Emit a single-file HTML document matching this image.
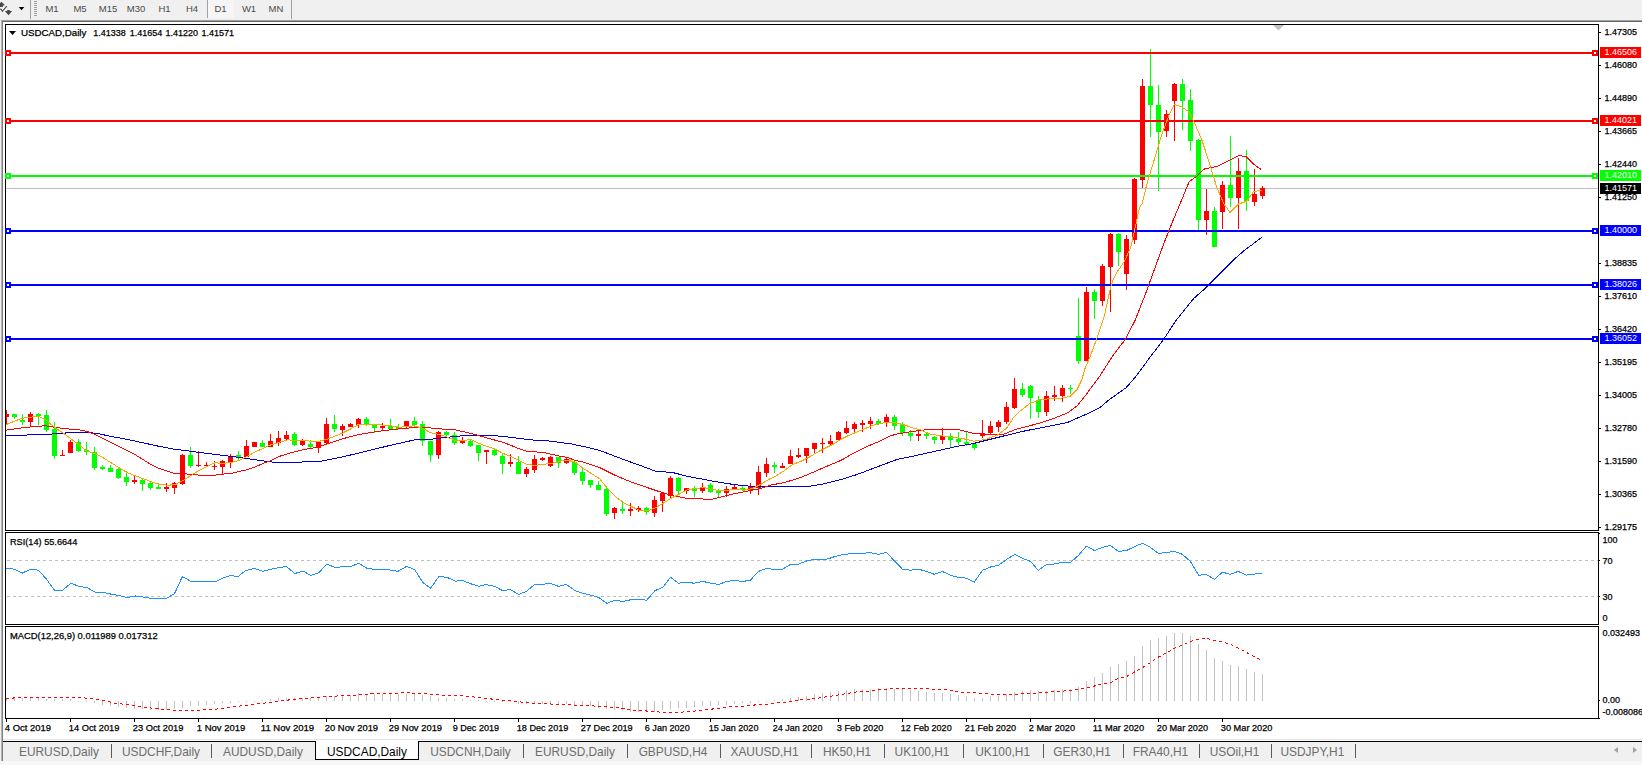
<!DOCTYPE html>
<html><head><meta charset="utf-8"><title>USDCAD,Daily</title>
<style>
html,body{margin:0;padding:0;}
body{width:1642px;height:765px;overflow:hidden;background:#fff;position:relative;font-family:"Liberation Sans",sans-serif;}
#toolbar{position:absolute;left:0;top:0;width:1642px;height:20px;background:#f0f0f0;}
#tb-line1{position:absolute;left:0;top:20px;width:1642px;height:1px;background:#a0a0a0;}
#tb-line2{position:absolute;left:0;top:21px;width:1642px;height:1px;background:#696969;}
#left-bg{position:absolute;left:0;top:20px;width:1px;height:741px;background:#f0f0f0;}
#left-edge{position:absolute;left:1px;top:21px;width:2px;height:740px;background:linear-gradient(90deg,#b4b4b4 0 1px,#808080 1px 2px);z-index:5;}
.tf{position:absolute;top:1.5px;width:28px;text-align:center;font-size:9.5px;line-height:13px;color:#4a4a4a;}
.tf.on{top:0;height:18px;line-height:18px;background:#f6f6f6;border-left:1px solid #a0a0a0;width:26px;}
.vsep{position:absolute;top:0;width:1px;height:19px;background:#a0a0a0;}
#grip{position:absolute;left:34px;top:1px;width:3px;height:16px;background:repeating-linear-gradient(#a0a0a0 0 1px,#f0f0f0 1px 2px);}
#chart{position:absolute;left:0;top:0;}
#chart rect,#chart polyline,#chart line{shape-rendering:crispEdges;}
#chart text{font-family:"Liberation Sans",sans-serif;stroke-width:0.25px;}
#tabbar{position:absolute;left:0;top:742px;width:1642px;height:19px;background:#f0f0f0;}
#tabline0{position:absolute;left:3px;top:739px;width:1642px;height:1px;background:#e3e3e3;}
#tabline{position:absolute;left:3px;top:741px;width:1642px;height:1px;background:#000;}
#below{position:absolute;left:0;top:761px;width:1642px;height:4px;background:#f7f7f7;}
.tab{position:absolute;top:3px;width:120px;text-align:center;font-size:11.9px;line-height:15px;color:#6d6d6d;white-space:nowrap;}
.tab.act{color:#000;top:-1px;height:18px;line-height:23px;background:#fff;border:1px solid #000;border-top:none;width:102px;margin-left:8px;}
.sep{position:absolute;top:2px;width:1px;height:14px;background:#5a5a5a;}
.arr{position:absolute;top:5px;width:0;height:0;border-top:3px solid transparent;border-bottom:3px solid transparent;}
</style></head><body>
<div id="toolbar">
<svg style="position:absolute;left:0;top:0" width="30" height="20"><polygon points="1.4,1.8 5,5.3 2.9,5.6 2.9,6.9 0,6.9 0,3.2" fill="#484848"/><polygon points="7.2,10 9.8,10 9.8,11 12.2,11.1 8.5,15.2 4.9,11.1 7.2,11" fill="#484848"/><polyline points="0,9.2 1.2,9.2 2.4,11.4 6.8,6.2" fill="none" stroke="#484848" stroke-width="1.1"/><polygon points="18.7,6.9 24.3,6.9 21.5,10.2" fill="#000"/></svg>
<i class="vsep" style="left:30px"></i><i id="grip"></i>
<span class="tf" style="left:38px">M1</span><span class="tf" style="left:66px">M5</span><span class="tf" style="left:94px">M15</span><span class="tf" style="left:122px">M30</span><span class="tf" style="left:150.5px">H1</span><span class="tf" style="left:178px">H4</span><span class="tf on" style="left:206.5px">D1</span><span class="tf" style="left:235px">W1</span><span class="tf" style="left:262px">MN</span>
<i class="vsep" style="left:291px"></i>
</div>
<div id="tb-line1"></div><div id="tb-line2"></div><div id="left-bg"></div><div id="left-edge"></div>
<svg id="chart" width="1642" height="742" viewBox="0 0 1642 742">
<defs><clipPath id="cp"><rect x="6" y="25" width="1592" height="693"/></clipPath></defs>
<rect x="5.5" y="24.5" width="1593" height="506" fill="#fff" stroke="#000" stroke-width="1"/>
<rect x="5.5" y="532.5" width="1593" height="92" fill="#fff" stroke="#000" stroke-width="1"/>
<rect x="5.5" y="626.5" width="1593" height="92" fill="#fff" stroke="#000" stroke-width="1"/>
<rect x="6" y="188" width="1592" height="1" fill="#c0c0c0"/>
<g clip-path="url(#cp)">
<rect x="6" y="698" width="1" height="3" fill="#c0c0c0"/>
<rect x="14" y="698" width="1" height="3" fill="#c0c0c0"/>
<rect x="22" y="698" width="1" height="3" fill="#c0c0c0"/>
<rect x="30" y="698" width="1" height="3" fill="#c0c0c0"/>
<rect x="38" y="698" width="1" height="3" fill="#c0c0c0"/>
<rect x="46" y="699" width="1" height="2" fill="#c0c0c0"/>
<rect x="54" y="699" width="1" height="2" fill="#c0c0c0"/>
<rect x="62" y="699" width="1" height="2" fill="#c0c0c0"/>
<rect x="70" y="699" width="1" height="2" fill="#c0c0c0"/>
<rect x="78" y="701" width="1" height="1" fill="#c0c0c0"/>
<rect x="86" y="701" width="1" height="1" fill="#c0c0c0"/>
<rect x="94" y="701" width="1" height="2" fill="#c0c0c0"/>
<rect x="102" y="701" width="1" height="4" fill="#c0c0c0"/>
<rect x="110" y="701" width="1" height="5" fill="#c0c0c0"/>
<rect x="118" y="701" width="1" height="6" fill="#c0c0c0"/>
<rect x="126" y="701" width="1" height="7" fill="#c0c0c0"/>
<rect x="134" y="701" width="1" height="8" fill="#c0c0c0"/>
<rect x="142" y="701" width="1" height="8" fill="#c0c0c0"/>
<rect x="150" y="701" width="1" height="9" fill="#c0c0c0"/>
<rect x="158" y="701" width="1" height="9" fill="#c0c0c0"/>
<rect x="166" y="701" width="1" height="9" fill="#c0c0c0"/>
<rect x="174" y="701" width="1" height="8" fill="#c0c0c0"/>
<rect x="182" y="701" width="1" height="7" fill="#c0c0c0"/>
<rect x="190" y="701" width="1" height="5" fill="#c0c0c0"/>
<rect x="198" y="701" width="1" height="5" fill="#c0c0c0"/>
<rect x="206" y="701" width="1" height="4" fill="#c0c0c0"/>
<rect x="214" y="701" width="1" height="3" fill="#c0c0c0"/>
<rect x="222" y="701" width="1" height="2" fill="#c0c0c0"/>
<rect x="230" y="701" width="1" height="2" fill="#c0c0c0"/>
<rect x="238" y="701" width="1" height="1" fill="#c0c0c0"/>
<rect x="246" y="701" width="1" height="1" fill="#c0c0c0"/>
<rect x="254" y="701" width="1" height="1" fill="#c0c0c0"/>
<rect x="262" y="700" width="1" height="1" fill="#c0c0c0"/>
<rect x="270" y="699" width="1" height="2" fill="#c0c0c0"/>
<rect x="278" y="698" width="1" height="3" fill="#c0c0c0"/>
<rect x="286" y="698" width="1" height="3" fill="#c0c0c0"/>
<rect x="294" y="698" width="1" height="3" fill="#c0c0c0"/>
<rect x="302" y="698" width="1" height="3" fill="#c0c0c0"/>
<rect x="310" y="698" width="1" height="3" fill="#c0c0c0"/>
<rect x="318" y="697" width="1" height="4" fill="#c0c0c0"/>
<rect x="326" y="696" width="1" height="5" fill="#c0c0c0"/>
<rect x="334" y="696" width="1" height="5" fill="#c0c0c0"/>
<rect x="342" y="695" width="1" height="6" fill="#c0c0c0"/>
<rect x="350" y="695" width="1" height="6" fill="#c0c0c0"/>
<rect x="358" y="693" width="1" height="8" fill="#c0c0c0"/>
<rect x="366" y="694" width="1" height="7" fill="#c0c0c0"/>
<rect x="374" y="694" width="1" height="7" fill="#c0c0c0"/>
<rect x="382" y="694" width="1" height="7" fill="#c0c0c0"/>
<rect x="390" y="694" width="1" height="7" fill="#c0c0c0"/>
<rect x="398" y="694" width="1" height="7" fill="#c0c0c0"/>
<rect x="406" y="694" width="1" height="7" fill="#c0c0c0"/>
<rect x="414" y="694" width="1" height="7" fill="#c0c0c0"/>
<rect x="422" y="695" width="1" height="6" fill="#c0c0c0"/>
<rect x="430" y="696" width="1" height="5" fill="#c0c0c0"/>
<rect x="438" y="698" width="1" height="3" fill="#c0c0c0"/>
<rect x="446" y="698" width="1" height="3" fill="#c0c0c0"/>
<rect x="454" y="699" width="1" height="2" fill="#c0c0c0"/>
<rect x="462" y="699" width="1" height="2" fill="#c0c0c0"/>
<rect x="470" y="700" width="1" height="1" fill="#c0c0c0"/>
<rect x="478" y="700" width="1" height="1" fill="#c0c0c0"/>
<rect x="486" y="701" width="1" height="1" fill="#c0c0c0"/>
<rect x="494" y="701" width="1" height="1" fill="#c0c0c0"/>
<rect x="502" y="701" width="1" height="1" fill="#c0c0c0"/>
<rect x="510" y="701" width="1" height="1" fill="#c0c0c0"/>
<rect x="518" y="701" width="1" height="3" fill="#c0c0c0"/>
<rect x="526" y="701" width="1" height="3" fill="#c0c0c0"/>
<rect x="534" y="701" width="1" height="3" fill="#c0c0c0"/>
<rect x="542" y="701" width="1" height="3" fill="#c0c0c0"/>
<rect x="550" y="701" width="1" height="4" fill="#c0c0c0"/>
<rect x="558" y="701" width="1" height="3" fill="#c0c0c0"/>
<rect x="566" y="701" width="1" height="3" fill="#c0c0c0"/>
<rect x="574" y="701" width="1" height="4" fill="#c0c0c0"/>
<rect x="582" y="701" width="1" height="5" fill="#c0c0c0"/>
<rect x="590" y="701" width="1" height="5" fill="#c0c0c0"/>
<rect x="598" y="701" width="1" height="7" fill="#c0c0c0"/>
<rect x="606" y="701" width="1" height="8" fill="#c0c0c0"/>
<rect x="614" y="701" width="1" height="9" fill="#c0c0c0"/>
<rect x="622" y="701" width="1" height="10" fill="#c0c0c0"/>
<rect x="630" y="701" width="1" height="11" fill="#c0c0c0"/>
<rect x="638" y="701" width="1" height="11" fill="#c0c0c0"/>
<rect x="646" y="701" width="1" height="11" fill="#c0c0c0"/>
<rect x="654" y="701" width="1" height="11" fill="#c0c0c0"/>
<rect x="662" y="701" width="1" height="9" fill="#c0c0c0"/>
<rect x="670" y="701" width="1" height="8" fill="#c0c0c0"/>
<rect x="678" y="701" width="1" height="7" fill="#c0c0c0"/>
<rect x="686" y="701" width="1" height="7" fill="#c0c0c0"/>
<rect x="694" y="701" width="1" height="6" fill="#c0c0c0"/>
<rect x="702" y="701" width="1" height="5" fill="#c0c0c0"/>
<rect x="710" y="701" width="1" height="5" fill="#c0c0c0"/>
<rect x="718" y="701" width="1" height="4" fill="#c0c0c0"/>
<rect x="726" y="701" width="1" height="4" fill="#c0c0c0"/>
<rect x="734" y="701" width="1" height="3" fill="#c0c0c0"/>
<rect x="742" y="701" width="1" height="2" fill="#c0c0c0"/>
<rect x="750" y="701" width="1" height="2" fill="#c0c0c0"/>
<rect x="758" y="701" width="1" height="1" fill="#c0c0c0"/>
<rect x="766" y="701" width="1" height="1" fill="#c0c0c0"/>
<rect x="774" y="700" width="1" height="1" fill="#c0c0c0"/>
<rect x="782" y="699" width="1" height="2" fill="#c0c0c0"/>
<rect x="790" y="698" width="1" height="3" fill="#c0c0c0"/>
<rect x="798" y="697" width="1" height="4" fill="#c0c0c0"/>
<rect x="806" y="696" width="1" height="5" fill="#c0c0c0"/>
<rect x="814" y="694" width="1" height="7" fill="#c0c0c0"/>
<rect x="822" y="693" width="1" height="8" fill="#c0c0c0"/>
<rect x="830" y="692" width="1" height="9" fill="#c0c0c0"/>
<rect x="838" y="691" width="1" height="10" fill="#c0c0c0"/>
<rect x="846" y="690" width="1" height="11" fill="#c0c0c0"/>
<rect x="854" y="689" width="1" height="12" fill="#c0c0c0"/>
<rect x="862" y="689" width="1" height="12" fill="#c0c0c0"/>
<rect x="870" y="689" width="1" height="12" fill="#c0c0c0"/>
<rect x="878" y="688" width="1" height="13" fill="#c0c0c0"/>
<rect x="886" y="688" width="1" height="13" fill="#c0c0c0"/>
<rect x="894" y="689" width="1" height="12" fill="#c0c0c0"/>
<rect x="902" y="689" width="1" height="12" fill="#c0c0c0"/>
<rect x="910" y="690" width="1" height="11" fill="#c0c0c0"/>
<rect x="918" y="691" width="1" height="10" fill="#c0c0c0"/>
<rect x="926" y="692" width="1" height="9" fill="#c0c0c0"/>
<rect x="934" y="693" width="1" height="8" fill="#c0c0c0"/>
<rect x="942" y="693" width="1" height="8" fill="#c0c0c0"/>
<rect x="950" y="694" width="1" height="7" fill="#c0c0c0"/>
<rect x="958" y="695" width="1" height="6" fill="#c0c0c0"/>
<rect x="966" y="696" width="1" height="5" fill="#c0c0c0"/>
<rect x="974" y="698" width="1" height="3" fill="#c0c0c0"/>
<rect x="982" y="698" width="1" height="3" fill="#c0c0c0"/>
<rect x="990" y="696" width="1" height="5" fill="#c0c0c0"/>
<rect x="998" y="696" width="1" height="5" fill="#c0c0c0"/>
<rect x="1006" y="694" width="1" height="7" fill="#c0c0c0"/>
<rect x="1014" y="692" width="1" height="9" fill="#c0c0c0"/>
<rect x="1022" y="691" width="1" height="10" fill="#c0c0c0"/>
<rect x="1030" y="690" width="1" height="11" fill="#c0c0c0"/>
<rect x="1038" y="691" width="1" height="10" fill="#c0c0c0"/>
<rect x="1046" y="691" width="1" height="10" fill="#c0c0c0"/>
<rect x="1054" y="690" width="1" height="11" fill="#c0c0c0"/>
<rect x="1062" y="689" width="1" height="12" fill="#c0c0c0"/>
<rect x="1070" y="689" width="1" height="12" fill="#c0c0c0"/>
<rect x="1078" y="687" width="1" height="14" fill="#c0c0c0"/>
<rect x="1086" y="681" width="1" height="20" fill="#c0c0c0"/>
<rect x="1094" y="677" width="1" height="24" fill="#c0c0c0"/>
<rect x="1102" y="673" width="1" height="28" fill="#c0c0c0"/>
<rect x="1110" y="667" width="1" height="34" fill="#c0c0c0"/>
<rect x="1118" y="664" width="1" height="37" fill="#c0c0c0"/>
<rect x="1126" y="661" width="1" height="40" fill="#c0c0c0"/>
<rect x="1134" y="656" width="1" height="45" fill="#c0c0c0"/>
<rect x="1142" y="646" width="1" height="55" fill="#c0c0c0"/>
<rect x="1150" y="640" width="1" height="61" fill="#c0c0c0"/>
<rect x="1158" y="638" width="1" height="63" fill="#c0c0c0"/>
<rect x="1166" y="636" width="1" height="65" fill="#c0c0c0"/>
<rect x="1174" y="633" width="1" height="68" fill="#c0c0c0"/>
<rect x="1182" y="633" width="1" height="68" fill="#c0c0c0"/>
<rect x="1190" y="636" width="1" height="65" fill="#c0c0c0"/>
<rect x="1198" y="644" width="1" height="57" fill="#c0c0c0"/>
<rect x="1206" y="650" width="1" height="51" fill="#c0c0c0"/>
<rect x="1214" y="658" width="1" height="43" fill="#c0c0c0"/>
<rect x="1222" y="661" width="1" height="40" fill="#c0c0c0"/>
<rect x="1230" y="665" width="1" height="36" fill="#c0c0c0"/>
<rect x="1238" y="666" width="1" height="35" fill="#c0c0c0"/>
<rect x="1246" y="669" width="1" height="32" fill="#c0c0c0"/>
<rect x="1254" y="672" width="1" height="29" fill="#c0c0c0"/>
<rect x="1262" y="674" width="1" height="27" fill="#c0c0c0"/>
<rect x="6" y="410" width="1" height="14" fill="#ff0000"/>
<rect x="4" y="414" width="5" height="3" fill="#ff0000"/>
<rect x="14" y="414" width="1" height="5" fill="#00ff00"/>
<rect x="12" y="414" width="5" height="3" fill="#00ff00"/>
<rect x="22" y="414" width="1" height="11" fill="#00ff00"/>
<rect x="20" y="420" width="5" height="2" fill="#00ff00"/>
<rect x="30" y="412" width="1" height="15" fill="#ff0000"/>
<rect x="28" y="414" width="5" height="8" fill="#ff0000"/>
<rect x="38" y="413" width="1" height="12" fill="#00ff00"/>
<rect x="36" y="414" width="5" height="2" fill="#00ff00"/>
<rect x="46" y="410" width="1" height="22" fill="#00ff00"/>
<rect x="44" y="415" width="5" height="15" fill="#00ff00"/>
<rect x="54" y="422" width="1" height="37" fill="#00ff00"/>
<rect x="52" y="429" width="5" height="27" fill="#00ff00"/>
<rect x="62" y="450" width="1" height="6" fill="#ff0000"/>
<rect x="60" y="455" width="5" height="1" fill="#ff0000"/>
<rect x="70" y="440" width="1" height="13" fill="#ff0000"/>
<rect x="68" y="442" width="5" height="11" fill="#ff0000"/>
<rect x="78" y="439" width="1" height="13" fill="#00ff00"/>
<rect x="76" y="442" width="5" height="9" fill="#00ff00"/>
<rect x="86" y="442" width="1" height="13" fill="#00ff00"/>
<rect x="84" y="450" width="5" height="2" fill="#00ff00"/>
<rect x="94" y="447" width="1" height="23" fill="#00ff00"/>
<rect x="92" y="452" width="5" height="16" fill="#00ff00"/>
<rect x="102" y="465" width="1" height="5" fill="#00ff00"/>
<rect x="100" y="467" width="5" height="2" fill="#00ff00"/>
<rect x="110" y="465" width="1" height="7" fill="#00ff00"/>
<rect x="108" y="468" width="5" height="4" fill="#00ff00"/>
<rect x="118" y="468" width="1" height="11" fill="#00ff00"/>
<rect x="116" y="469" width="5" height="9" fill="#00ff00"/>
<rect x="126" y="471" width="1" height="15" fill="#00ff00"/>
<rect x="124" y="477" width="5" height="5" fill="#00ff00"/>
<rect x="134" y="476" width="1" height="8" fill="#ff0000"/>
<rect x="132" y="480" width="5" height="2" fill="#ff0000"/>
<rect x="142" y="479" width="1" height="12" fill="#00ff00"/>
<rect x="140" y="480" width="5" height="4" fill="#00ff00"/>
<rect x="150" y="482" width="1" height="8" fill="#00ff00"/>
<rect x="148" y="483" width="5" height="5" fill="#00ff00"/>
<rect x="158" y="485" width="1" height="4" fill="#00ff00"/>
<rect x="156" y="487" width="5" height="2" fill="#00ff00"/>
<rect x="166" y="483" width="1" height="9" fill="#ff0000"/>
<rect x="164" y="487" width="5" height="2" fill="#ff0000"/>
<rect x="174" y="482" width="1" height="12" fill="#ff0000"/>
<rect x="172" y="483" width="5" height="5" fill="#ff0000"/>
<rect x="182" y="454" width="1" height="31" fill="#ff0000"/>
<rect x="180" y="455" width="5" height="29" fill="#ff0000"/>
<rect x="190" y="447" width="1" height="21" fill="#00ff00"/>
<rect x="188" y="455" width="5" height="11" fill="#00ff00"/>
<rect x="198" y="451" width="1" height="16" fill="#ff0000"/>
<rect x="196" y="465" width="5" height="1" fill="#ff0000"/>
<rect x="206" y="462" width="1" height="5" fill="#ff0000"/>
<rect x="204" y="465" width="5" height="1" fill="#ff0000"/>
<rect x="214" y="461" width="1" height="9" fill="#ff0000"/>
<rect x="212" y="466" width="5" height="1" fill="#ff0000"/>
<rect x="222" y="460" width="1" height="14" fill="#ff0000"/>
<rect x="220" y="461" width="5" height="6" fill="#ff0000"/>
<rect x="230" y="454" width="1" height="14" fill="#ff0000"/>
<rect x="228" y="456" width="5" height="6" fill="#ff0000"/>
<rect x="238" y="451" width="1" height="10" fill="#00ff00"/>
<rect x="236" y="455" width="5" height="2" fill="#00ff00"/>
<rect x="246" y="440" width="1" height="17" fill="#ff0000"/>
<rect x="244" y="446" width="5" height="11" fill="#ff0000"/>
<rect x="254" y="442" width="1" height="5" fill="#ff0000"/>
<rect x="252" y="442" width="5" height="5" fill="#ff0000"/>
<rect x="262" y="440" width="1" height="7" fill="#00ff00"/>
<rect x="260" y="443" width="5" height="4" fill="#00ff00"/>
<rect x="270" y="434" width="1" height="13" fill="#ff0000"/>
<rect x="268" y="441" width="5" height="6" fill="#ff0000"/>
<rect x="278" y="431" width="1" height="15" fill="#ff0000"/>
<rect x="276" y="438" width="5" height="5" fill="#ff0000"/>
<rect x="286" y="431" width="1" height="9" fill="#ff0000"/>
<rect x="284" y="435" width="5" height="4" fill="#ff0000"/>
<rect x="294" y="432" width="1" height="14" fill="#00ff00"/>
<rect x="292" y="434" width="5" height="11" fill="#00ff00"/>
<rect x="302" y="439" width="1" height="7" fill="#ff0000"/>
<rect x="300" y="441" width="5" height="4" fill="#ff0000"/>
<rect x="310" y="440" width="1" height="8" fill="#00ff00"/>
<rect x="308" y="444" width="5" height="3" fill="#00ff00"/>
<rect x="318" y="441" width="1" height="12" fill="#ff0000"/>
<rect x="316" y="442" width="5" height="6" fill="#ff0000"/>
<rect x="326" y="418" width="1" height="27" fill="#ff0000"/>
<rect x="324" y="424" width="5" height="19" fill="#ff0000"/>
<rect x="334" y="415" width="1" height="17" fill="#00ff00"/>
<rect x="332" y="424" width="5" height="5" fill="#00ff00"/>
<rect x="342" y="424" width="1" height="12" fill="#ff0000"/>
<rect x="340" y="426" width="5" height="4" fill="#ff0000"/>
<rect x="350" y="423" width="1" height="4" fill="#ff0000"/>
<rect x="348" y="424" width="5" height="3" fill="#ff0000"/>
<rect x="358" y="418" width="1" height="10" fill="#ff0000"/>
<rect x="356" y="419" width="5" height="6" fill="#ff0000"/>
<rect x="366" y="417" width="1" height="9" fill="#00ff00"/>
<rect x="364" y="419" width="5" height="6" fill="#00ff00"/>
<rect x="374" y="425" width="1" height="8" fill="#00ff00"/>
<rect x="372" y="425" width="5" height="3" fill="#00ff00"/>
<rect x="382" y="423" width="1" height="8" fill="#ff0000"/>
<rect x="380" y="426" width="5" height="2" fill="#ff0000"/>
<rect x="390" y="419" width="1" height="11" fill="#00ff00"/>
<rect x="388" y="426" width="5" height="3" fill="#00ff00"/>
<rect x="398" y="424" width="1" height="5" fill="#00ff00"/>
<rect x="396" y="427" width="5" height="2" fill="#00ff00"/>
<rect x="406" y="421" width="1" height="8" fill="#ff0000"/>
<rect x="404" y="421" width="5" height="6" fill="#ff0000"/>
<rect x="414" y="417" width="1" height="11" fill="#00ff00"/>
<rect x="412" y="421" width="5" height="4" fill="#00ff00"/>
<rect x="422" y="421" width="1" height="25" fill="#00ff00"/>
<rect x="420" y="424" width="5" height="17" fill="#00ff00"/>
<rect x="430" y="441" width="1" height="21" fill="#00ff00"/>
<rect x="428" y="441" width="5" height="14" fill="#00ff00"/>
<rect x="438" y="431" width="1" height="28" fill="#ff0000"/>
<rect x="436" y="432" width="5" height="23" fill="#ff0000"/>
<rect x="446" y="431" width="1" height="5" fill="#00ff00"/>
<rect x="444" y="432" width="5" height="3" fill="#00ff00"/>
<rect x="454" y="432" width="1" height="13" fill="#00ff00"/>
<rect x="452" y="435" width="5" height="8" fill="#00ff00"/>
<rect x="462" y="437" width="1" height="7" fill="#ff0000"/>
<rect x="460" y="441" width="5" height="2" fill="#ff0000"/>
<rect x="470" y="439" width="1" height="8" fill="#00ff00"/>
<rect x="468" y="441" width="5" height="5" fill="#00ff00"/>
<rect x="478" y="445" width="1" height="16" fill="#00ff00"/>
<rect x="476" y="445" width="5" height="8" fill="#00ff00"/>
<rect x="486" y="450" width="1" height="14" fill="#ff0000"/>
<rect x="484" y="450" width="5" height="2" fill="#ff0000"/>
<rect x="494" y="449" width="1" height="7" fill="#00ff00"/>
<rect x="492" y="450" width="5" height="5" fill="#00ff00"/>
<rect x="502" y="454" width="1" height="20" fill="#00ff00"/>
<rect x="500" y="456" width="5" height="8" fill="#00ff00"/>
<rect x="510" y="454" width="1" height="13" fill="#ff0000"/>
<rect x="508" y="462" width="5" height="2" fill="#ff0000"/>
<rect x="518" y="456" width="1" height="18" fill="#00ff00"/>
<rect x="516" y="462" width="5" height="12" fill="#00ff00"/>
<rect x="526" y="467" width="1" height="10" fill="#ff0000"/>
<rect x="524" y="469" width="5" height="5" fill="#ff0000"/>
<rect x="534" y="455" width="1" height="18" fill="#ff0000"/>
<rect x="532" y="459" width="5" height="11" fill="#ff0000"/>
<rect x="542" y="457" width="1" height="4" fill="#ff0000"/>
<rect x="540" y="458" width="5" height="2" fill="#ff0000"/>
<rect x="550" y="456" width="1" height="11" fill="#ff0000"/>
<rect x="548" y="457" width="5" height="9" fill="#ff0000"/>
<rect x="558" y="457" width="1" height="11" fill="#00ff00"/>
<rect x="556" y="457" width="5" height="6" fill="#00ff00"/>
<rect x="566" y="457" width="1" height="7" fill="#ff0000"/>
<rect x="564" y="459" width="5" height="4" fill="#ff0000"/>
<rect x="574" y="460" width="1" height="15" fill="#00ff00"/>
<rect x="572" y="462" width="5" height="11" fill="#00ff00"/>
<rect x="582" y="468" width="1" height="17" fill="#00ff00"/>
<rect x="580" y="472" width="5" height="9" fill="#00ff00"/>
<rect x="590" y="480" width="1" height="8" fill="#00ff00"/>
<rect x="588" y="480" width="5" height="5" fill="#00ff00"/>
<rect x="598" y="481" width="1" height="9" fill="#00ff00"/>
<rect x="596" y="485" width="5" height="5" fill="#00ff00"/>
<rect x="606" y="486" width="1" height="30" fill="#00ff00"/>
<rect x="604" y="489" width="5" height="25" fill="#00ff00"/>
<rect x="614" y="507" width="1" height="12" fill="#ff0000"/>
<rect x="612" y="508" width="5" height="5" fill="#ff0000"/>
<rect x="622" y="502" width="1" height="12" fill="#00ff00"/>
<rect x="620" y="509" width="5" height="2" fill="#00ff00"/>
<rect x="630" y="503" width="1" height="13" fill="#ff0000"/>
<rect x="628" y="509" width="5" height="2" fill="#ff0000"/>
<rect x="638" y="506" width="1" height="6" fill="#ff0000"/>
<rect x="636" y="508" width="5" height="2" fill="#ff0000"/>
<rect x="646" y="507" width="1" height="8" fill="#00ff00"/>
<rect x="644" y="508" width="5" height="4" fill="#00ff00"/>
<rect x="654" y="496" width="1" height="21" fill="#ff0000"/>
<rect x="652" y="500" width="5" height="13" fill="#ff0000"/>
<rect x="662" y="493" width="1" height="19" fill="#ff0000"/>
<rect x="660" y="493" width="5" height="8" fill="#ff0000"/>
<rect x="670" y="476" width="1" height="22" fill="#ff0000"/>
<rect x="668" y="478" width="5" height="18" fill="#ff0000"/>
<rect x="678" y="477" width="1" height="18" fill="#00ff00"/>
<rect x="676" y="478" width="5" height="13" fill="#00ff00"/>
<rect x="686" y="488" width="1" height="6" fill="#ff0000"/>
<rect x="684" y="488" width="5" height="3" fill="#ff0000"/>
<rect x="694" y="486" width="1" height="11" fill="#00ff00"/>
<rect x="692" y="489" width="5" height="2" fill="#00ff00"/>
<rect x="702" y="483" width="1" height="10" fill="#ff0000"/>
<rect x="700" y="487" width="5" height="4" fill="#ff0000"/>
<rect x="710" y="483" width="1" height="10" fill="#00ff00"/>
<rect x="708" y="485" width="5" height="7" fill="#00ff00"/>
<rect x="718" y="489" width="1" height="8" fill="#00ff00"/>
<rect x="716" y="490" width="5" height="3" fill="#00ff00"/>
<rect x="726" y="486" width="1" height="11" fill="#ff0000"/>
<rect x="724" y="489" width="5" height="4" fill="#ff0000"/>
<rect x="734" y="485" width="1" height="5" fill="#ff0000"/>
<rect x="732" y="487" width="5" height="3" fill="#ff0000"/>
<rect x="742" y="486" width="1" height="5" fill="#00ff00"/>
<rect x="740" y="488" width="5" height="2" fill="#00ff00"/>
<rect x="750" y="483" width="1" height="11" fill="#ff0000"/>
<rect x="748" y="487" width="5" height="3" fill="#ff0000"/>
<rect x="758" y="466" width="1" height="29" fill="#ff0000"/>
<rect x="756" y="472" width="5" height="16" fill="#ff0000"/>
<rect x="766" y="458" width="1" height="19" fill="#ff0000"/>
<rect x="764" y="464" width="5" height="9" fill="#ff0000"/>
<rect x="774" y="462" width="1" height="11" fill="#00ff00"/>
<rect x="772" y="465" width="5" height="2" fill="#00ff00"/>
<rect x="782" y="463" width="1" height="5" fill="#ff0000"/>
<rect x="780" y="466" width="5" height="2" fill="#ff0000"/>
<rect x="790" y="450" width="1" height="14" fill="#ff0000"/>
<rect x="788" y="456" width="5" height="8" fill="#ff0000"/>
<rect x="798" y="448" width="1" height="10" fill="#ff0000"/>
<rect x="796" y="455" width="5" height="2" fill="#ff0000"/>
<rect x="806" y="448" width="1" height="15" fill="#ff0000"/>
<rect x="804" y="448" width="5" height="8" fill="#ff0000"/>
<rect x="814" y="443" width="1" height="10" fill="#ff0000"/>
<rect x="812" y="443" width="5" height="6" fill="#ff0000"/>
<rect x="822" y="438" width="1" height="15" fill="#ff0000"/>
<rect x="820" y="443" width="5" height="1" fill="#ff0000"/>
<rect x="830" y="435" width="1" height="11" fill="#ff0000"/>
<rect x="828" y="441" width="5" height="3" fill="#ff0000"/>
<rect x="838" y="431" width="1" height="10" fill="#ff0000"/>
<rect x="836" y="432" width="5" height="8" fill="#ff0000"/>
<rect x="846" y="421" width="1" height="13" fill="#ff0000"/>
<rect x="844" y="428" width="5" height="5" fill="#ff0000"/>
<rect x="854" y="422" width="1" height="12" fill="#ff0000"/>
<rect x="852" y="424" width="5" height="5" fill="#ff0000"/>
<rect x="862" y="420" width="1" height="12" fill="#ff0000"/>
<rect x="860" y="423" width="5" height="2" fill="#ff0000"/>
<rect x="870" y="417" width="1" height="12" fill="#ff0000"/>
<rect x="868" y="421" width="5" height="3" fill="#ff0000"/>
<rect x="878" y="419" width="1" height="6" fill="#00ff00"/>
<rect x="876" y="421" width="5" height="3" fill="#00ff00"/>
<rect x="886" y="414" width="1" height="13" fill="#ff0000"/>
<rect x="884" y="417" width="5" height="5" fill="#ff0000"/>
<rect x="894" y="415" width="1" height="15" fill="#00ff00"/>
<rect x="892" y="417" width="5" height="9" fill="#00ff00"/>
<rect x="902" y="422" width="1" height="14" fill="#00ff00"/>
<rect x="900" y="425" width="5" height="8" fill="#00ff00"/>
<rect x="910" y="430" width="1" height="11" fill="#00ff00"/>
<rect x="908" y="433" width="5" height="3" fill="#00ff00"/>
<rect x="918" y="430" width="1" height="11" fill="#ff0000"/>
<rect x="916" y="434" width="5" height="2" fill="#ff0000"/>
<rect x="926" y="433" width="1" height="6" fill="#00ff00"/>
<rect x="924" y="434" width="5" height="2" fill="#00ff00"/>
<rect x="934" y="436" width="1" height="8" fill="#00ff00"/>
<rect x="932" y="437" width="5" height="3" fill="#00ff00"/>
<rect x="942" y="428" width="1" height="16" fill="#ff0000"/>
<rect x="940" y="436" width="5" height="4" fill="#ff0000"/>
<rect x="950" y="433" width="1" height="14" fill="#00ff00"/>
<rect x="948" y="436" width="5" height="4" fill="#00ff00"/>
<rect x="958" y="432" width="1" height="13" fill="#00ff00"/>
<rect x="956" y="439" width="5" height="3" fill="#00ff00"/>
<rect x="966" y="431" width="1" height="15" fill="#00ff00"/>
<rect x="964" y="442" width="5" height="2" fill="#00ff00"/>
<rect x="974" y="443" width="1" height="7" fill="#00ff00"/>
<rect x="972" y="444" width="5" height="4" fill="#00ff00"/>
<rect x="982" y="420" width="1" height="18" fill="#ff0000"/>
<rect x="980" y="433" width="5" height="3" fill="#ff0000"/>
<rect x="990" y="421" width="1" height="13" fill="#ff0000"/>
<rect x="988" y="426" width="5" height="7" fill="#ff0000"/>
<rect x="998" y="420" width="1" height="12" fill="#ff0000"/>
<rect x="996" y="422" width="5" height="5" fill="#ff0000"/>
<rect x="1006" y="402" width="1" height="22" fill="#ff0000"/>
<rect x="1004" y="407" width="5" height="15" fill="#ff0000"/>
<rect x="1014" y="378" width="1" height="31" fill="#ff0000"/>
<rect x="1012" y="389" width="5" height="19" fill="#ff0000"/>
<rect x="1022" y="383" width="1" height="14" fill="#00ff00"/>
<rect x="1020" y="389" width="5" height="6" fill="#00ff00"/>
<rect x="1030" y="385" width="1" height="34" fill="#00ff00"/>
<rect x="1028" y="386" width="5" height="12" fill="#00ff00"/>
<rect x="1038" y="396" width="1" height="22" fill="#00ff00"/>
<rect x="1036" y="400" width="5" height="12" fill="#00ff00"/>
<rect x="1046" y="391" width="1" height="25" fill="#ff0000"/>
<rect x="1044" y="396" width="5" height="16" fill="#ff0000"/>
<rect x="1054" y="386" width="1" height="15" fill="#ff0000"/>
<rect x="1052" y="395" width="5" height="2" fill="#ff0000"/>
<rect x="1062" y="385" width="1" height="17" fill="#ff0000"/>
<rect x="1060" y="388" width="5" height="8" fill="#ff0000"/>
<rect x="1070" y="385" width="1" height="9" fill="#00ff00"/>
<rect x="1068" y="388" width="5" height="1" fill="#00ff00"/>
<rect x="1078" y="298" width="1" height="66" fill="#00ff00"/>
<rect x="1076" y="336" width="5" height="25" fill="#00ff00"/>
<rect x="1086" y="287" width="1" height="74" fill="#ff0000"/>
<rect x="1084" y="292" width="5" height="69" fill="#ff0000"/>
<rect x="1094" y="289" width="1" height="30" fill="#00ff00"/>
<rect x="1092" y="292" width="5" height="9" fill="#00ff00"/>
<rect x="1102" y="264" width="1" height="42" fill="#ff0000"/>
<rect x="1100" y="266" width="5" height="35" fill="#ff0000"/>
<rect x="1110" y="233" width="1" height="79" fill="#ff0000"/>
<rect x="1108" y="234" width="5" height="33" fill="#ff0000"/>
<rect x="1118" y="233" width="1" height="33" fill="#00ff00"/>
<rect x="1116" y="234" width="5" height="18" fill="#00ff00"/>
<rect x="1126" y="235" width="1" height="55" fill="#ff0000"/>
<rect x="1124" y="239" width="5" height="35" fill="#ff0000"/>
<rect x="1134" y="178" width="1" height="66" fill="#ff0000"/>
<rect x="1132" y="179" width="5" height="61" fill="#ff0000"/>
<rect x="1142" y="79" width="1" height="109" fill="#ff0000"/>
<rect x="1140" y="86" width="5" height="94" fill="#ff0000"/>
<rect x="1150" y="49" width="1" height="88" fill="#00ff00"/>
<rect x="1148" y="86" width="5" height="19" fill="#00ff00"/>
<rect x="1158" y="85" width="1" height="106" fill="#00ff00"/>
<rect x="1156" y="105" width="5" height="27" fill="#00ff00"/>
<rect x="1166" y="110" width="1" height="27" fill="#ff0000"/>
<rect x="1164" y="114" width="5" height="17" fill="#ff0000"/>
<rect x="1174" y="83" width="1" height="58" fill="#ff0000"/>
<rect x="1172" y="84" width="5" height="17" fill="#ff0000"/>
<rect x="1182" y="79" width="1" height="51" fill="#00ff00"/>
<rect x="1180" y="84" width="5" height="17" fill="#00ff00"/>
<rect x="1190" y="89" width="1" height="62" fill="#00ff00"/>
<rect x="1188" y="100" width="5" height="41" fill="#00ff00"/>
<rect x="1198" y="139" width="1" height="91" fill="#00ff00"/>
<rect x="1196" y="140" width="5" height="80" fill="#00ff00"/>
<rect x="1206" y="189" width="1" height="46" fill="#ff0000"/>
<rect x="1204" y="211" width="5" height="9" fill="#ff0000"/>
<rect x="1214" y="207" width="1" height="40" fill="#00ff00"/>
<rect x="1212" y="211" width="5" height="36" fill="#00ff00"/>
<rect x="1222" y="181" width="1" height="48" fill="#ff0000"/>
<rect x="1220" y="185" width="5" height="27" fill="#ff0000"/>
<rect x="1230" y="136" width="1" height="71" fill="#00ff00"/>
<rect x="1228" y="185" width="5" height="13" fill="#00ff00"/>
<rect x="1238" y="158" width="1" height="71" fill="#ff0000"/>
<rect x="1236" y="171" width="5" height="27" fill="#ff0000"/>
<rect x="1246" y="150" width="1" height="61" fill="#00ff00"/>
<rect x="1244" y="171" width="5" height="30" fill="#00ff00"/>
<rect x="1254" y="169" width="1" height="37" fill="#ff0000"/>
<rect x="1252" y="194" width="5" height="8" fill="#ff0000"/>
<rect x="1262" y="186" width="1" height="13" fill="#ff0000"/>
<rect x="1260" y="188" width="5" height="8" fill="#ff0000"/>
<rect x="6" y="52" width="1592" height="2" fill="#ff0000"/>
<rect x="6" y="120" width="1592" height="2" fill="#ff0000"/>
<rect x="6" y="175" width="1592" height="2" fill="#00ff00"/>
<rect x="6" y="230" width="1592" height="2" fill="#0000ff"/>
<rect x="6" y="284" width="1592" height="2" fill="#0000ff"/>
<rect x="6" y="338" width="1592" height="2" fill="#0000ff"/>
<polyline points="6.0,435.3 34.2,434.9 54.3,433.9 74.4,432.3 88.4,432.3 98.5,433.7 110.5,436.3 126.6,439.3 142.7,442.7 158.8,446.3 174.8,449.3 190.9,451.3 207.0,453.4 223.1,455.4 239.2,457.4 255.2,459.8 267.3,461.4 275.3,462.4 295.4,462.4 311.5,461.4 320.0,461.4 342.1,457.0 366.2,451.3 390.3,445.3 414.5,439.9 430.5,439.3 446.6,437.3 466.7,435.3 490.8,435.3 510.9,437.3 531.0,439.9 547.1,440.7 571.2,443.9 587.3,447.3 599.4,450.3 615.4,456.4 631.5,462.4 640.0,465.4 656.1,471.4 672.2,472.4 688.2,476.5 704.3,479.5 720.4,482.5 736.5,484.9 748.5,486.1 810.8,486.1 822.9,484.1 841.0,479.5 857.1,474.5 873.1,468.4 889.2,462.4 897.2,459.4 909.3,457.0 925.4,453.4 941.5,449.9 957.5,446.3 973.5,443.5 997.1,437.6 1020.6,431.8 1044.1,427.1 1067.6,422.4 1086.5,414.1 1100.6,407.1 1108.7,400.0 1126.0,387.8 1136.0,376.3 1147.6,360.5 1163.4,339.6 1176.3,320.2 1190.0,303.0 1194.1,298.1 1204.1,289.4 1214.0,279.5 1223.9,269.5 1233.9,259.6 1243.8,250.9 1253.7,243.5 1261.9,237.3" fill="none" stroke="#0000cd" stroke-width="1" />
<polyline points="6.0,430.2 22.1,427.8 38.2,426.2 46.2,425.8 54.3,427.2 66.3,428.8 78.4,429.8 86.4,431.2 94.5,434.3 102.5,438.3 110.5,442.3 118.6,446.3 126.6,450.3 134.7,454.4 142.7,459.4 150.7,464.4 158.8,468.4 166.8,470.8 174.8,473.5 182.9,473.5 190.9,474.5 199.0,475.1 207.0,475.1 215.0,475.1 223.1,474.1 231.1,473.5 239.2,471.4 247.2,469.8 255.2,466.8 263.3,463.4 271.3,460.4 279.4,456.4 287.4,453.8 295.4,451.7 303.5,449.7 311.5,448.3 319.5,446.3 328.0,443.7 342.1,438.9 358.2,434.7 374.3,431.9 390.3,429.8 406.4,428.2 422.5,427.2 438.6,428.8 454.7,429.8 470.7,433.3 486.8,437.9 502.9,442.3 510.9,445.3 519.0,448.7 527.0,451.3 543.1,452.4 559.2,456.0 567.2,457.4 575.2,460.4 583.3,462.0 599.4,467.4 615.4,475.5 631.5,482.1 640.0,485.1 650.0,488.5 662.1,492.5 672.2,495.6 686.2,498.2 698.3,498.6 710.3,499.6 722.4,496.6 734.5,493.6 750.5,490.5 760.6,488.5 770.6,485.1 784.7,482.5 800.8,477.5 812.8,472.4 828.9,465.4 841.0,460.4 853.0,453.4 865.1,447.3 877.1,442.3 889.2,436.3 897.2,433.9 909.3,431.9 921.4,430.2 933.4,429.2 953.5,429.2 959.4,429.9 973.5,433.4 990.0,434.6 1004.1,434.1 1015.9,429.4 1027.6,426.4 1041.8,422.4 1055.9,417.6 1067.6,412.9 1077.1,405.9 1086.5,394.1 1095.9,381.2 1099.7,376.3 1112.2,356.5 1124.6,340.3 1134.5,321.7 1144.4,296.9 1154.4,269.5 1164.3,242.2 1174.3,217.4 1181.7,200.0 1189.2,181.5 1196.6,176.5 1204.1,169.1 1209.0,167.9 1216.5,166.6 1223.9,162.9 1231.4,159.2 1238.8,155.4 1246.3,156.7 1253.7,164.1 1261.2,169.6" fill="none" stroke="#ff0000" stroke-width="1" />
<polyline points="6.0,424.6 22.1,418.2 38.2,416.2 46.2,420.2 54.3,427.2 66.3,435.3 78.4,444.3 86.4,450.7 94.5,453.4 102.5,457.4 110.5,462.4 118.6,467.4 126.6,472.4 134.7,475.5 142.7,478.5 150.7,481.5 158.8,484.1 166.8,485.1 174.8,484.9 182.9,480.5 190.9,475.5 199.0,470.4 207.0,466.4 215.0,462.8 223.1,463.4 231.1,462.4 239.2,460.4 247.2,456.4 255.2,451.9 263.3,448.3 271.3,444.7 279.4,442.3 287.4,439.9 295.4,440.3 303.5,440.3 311.5,441.3 319.5,441.3 328.0,438.9 342.1,433.3 350.1,429.2 358.2,424.6 374.3,424.2 390.3,425.8 400.4,427.2 414.5,425.8 422.5,428.2 430.5,432.7 438.6,434.3 446.6,436.9 454.7,440.3 462.7,440.9 470.7,439.3 478.8,443.3 486.8,446.3 494.8,448.9 502.9,453.4 510.9,456.4 519.0,460.4 527.0,464.4 535.0,465.4 543.1,464.4 551.1,463.4 559.2,461.4 567.2,460.0 575.2,462.4 583.3,468.4 591.3,473.5 599.4,478.5 607.4,488.5 615.4,496.6 623.5,502.6 631.5,506.6 639.5,510.2 648.0,510.6 656.1,507.6 664.1,502.6 672.2,497.6 680.2,493.6 688.2,489.5 696.3,488.5 704.3,487.5 712.4,489.5 720.4,490.5 728.4,490.1 736.5,489.5 744.5,490.1 752.5,488.5 760.6,484.5 768.6,479.5 776.7,475.5 784.7,470.4 792.7,464.4 800.8,461.4 808.8,457.4 816.9,452.4 824.9,448.3 832.9,444.3 841.0,439.3 849.0,435.3 857.1,431.9 865.1,428.6 873.1,425.2 881.2,423.2 889.2,422.2 897.2,423.2 905.3,425.2 913.3,428.2 921.4,430.2 929.4,433.9 937.4,435.3 945.5,436.3 953.5,437.3 961.6,438.3 973.5,441.2 985.3,439.5 997.1,435.3 1006.5,428.2 1013.5,417.6 1020.6,410.6 1030.0,403.5 1039.4,400.0 1048.8,398.8 1058.2,398.8 1070.0,396.5 1077.1,389.4 1081.8,380.0 1084.8,368.9 1090.0,356.9 1096.5,339.6 1104.4,315.9 1110.0,290.0 1112.2,282.0 1117.1,272.0 1124.6,260.9 1130.8,247.2 1135.8,224.8 1139.5,207.5 1142.0,203.9 1146.9,184.0 1154.4,159.2 1161.8,134.3 1169.3,114.4 1174.3,104.5 1181.7,107.0 1189.2,112.0 1194.1,121.9 1201.6,139.3 1209.0,161.6 1216.5,186.5 1223.9,203.9 1230.1,212.6 1238.8,203.9 1246.3,201.4 1253.7,191.4 1262.4,190.2" fill="none" stroke="#ffa500" stroke-width="1" />
</g>
<rect x="6" y="51" width="4" height="4" fill="#fff" stroke="#ff0000" stroke-width="2"/>
<rect x="1593" y="51" width="4" height="4" fill="#fff" stroke="#ff0000" stroke-width="2"/>
<rect x="6" y="119" width="4" height="4" fill="#fff" stroke="#ff0000" stroke-width="2"/>
<rect x="1593" y="119" width="4" height="4" fill="#fff" stroke="#ff0000" stroke-width="2"/>
<rect x="6" y="174" width="4" height="4" fill="#fff" stroke="#00ff00" stroke-width="2"/>
<rect x="1593" y="174" width="4" height="4" fill="#fff" stroke="#00ff00" stroke-width="2"/>
<rect x="6" y="229" width="4" height="4" fill="#fff" stroke="#0000ff" stroke-width="2"/>
<rect x="1593" y="229" width="4" height="4" fill="#fff" stroke="#0000ff" stroke-width="2"/>
<rect x="6" y="283" width="4" height="4" fill="#fff" stroke="#0000ff" stroke-width="2"/>
<rect x="1593" y="283" width="4" height="4" fill="#fff" stroke="#0000ff" stroke-width="2"/>
<rect x="6" y="337" width="4" height="4" fill="#fff" stroke="#0000ff" stroke-width="2"/>
<rect x="1593" y="337" width="4" height="4" fill="#fff" stroke="#0000ff" stroke-width="2"/>
<line x1="7" y1="560.5" x2="1598" y2="560.5" stroke="#c0c0c0" stroke-width="1" stroke-dasharray="3 3"/>
<line x1="7" y1="596.5" x2="1598" y2="596.5" stroke="#c0c0c0" stroke-width="1" stroke-dasharray="3 3"/>
<polyline points="6.4,568.4 14.1,569.1 22.5,573.0 30.7,569.1 38.4,570.2 46.0,578.6 54.5,590.1 62.7,590.1 70.9,583.2 78.8,586.3 87.0,587.6 95.2,592.2 103.1,592.2 111.3,594.2 119.5,595.7 127.4,597.5 135.6,596.0 143.2,597.0 150.9,598.3 166.3,598.3 174.4,593.9 182.4,576.6 190.6,581.2 212.3,581.2 214.9,581.9 222.5,578.1 230.2,575.5 237.9,576.6 246.1,570.4 254.5,568.4 262.7,571.4 271.1,569.1 278.8,567.6 286.5,566.6 294.9,573.5 303.1,570.9 310.8,575.5 319.0,572.5 326.9,564.0 335.1,567.6 342.8,566.6 350.9,566.6 358.6,563.3 367.1,568.4 374.7,569.4 386.2,569.4 391.4,570.2 397.7,571.4 406.7,566.3 414.6,569.6 422.8,582.4 430.5,588.3 438.9,576.6 447.1,577.3 455.5,581.2 462.4,580.4 470.6,583.7 478.6,586.3 485.5,584.5 494.4,586.3 502.6,590.6 510.5,589.6 518.7,594.5 526.4,591.4 534.6,584.5 542.5,584.5 549.4,583.2 558.4,586.3 566.5,584.5 575.0,590.6 582.7,593.2 590.8,595.2 598.5,597.3 607.0,603.4 614.6,600.3 622.8,601.4 630.5,599.8 638.4,599.1 646.6,600.3 654.8,590.9 663.2,586.8 670.4,577.3 678.6,583.2 686.8,582.2 693.9,583.2 702.9,581.4 710.5,583.2 718.7,584.5 726.7,581.4 734.3,580.4 742.5,581.4 750.2,580.4 758.4,571.4 766.3,568.4 774.5,569.4 782.2,569.4 790.4,564.5 798.8,564.0 806.5,561.0 814.1,559.4 822.3,559.4 825.1,559.4 830.2,558.1 837.9,555.6 845.6,554.3 853.3,553.5 862.2,553.5 869.9,552.5 878.3,554.3 886.5,552.5 894.2,560.7 902.4,569.1 910.3,570.2 918.5,569.1 926.2,571.4 934.3,574.3 942.3,571.4 950.5,575.3 958.1,577.3 966.3,578.1 974.2,582.2 982.4,570.4 990.1,567.1 998.3,565.3 1006.7,559.4 1014.9,554.3 1022.8,558.6 1030.8,561.5 1038.2,570.4 1046.4,564.5 1054.0,564.0 1062.2,562.5 1070.7,562.2 1078.3,555.6 1086.5,546.1 1094.5,550.5 1102.6,547.4 1110.3,545.3 1118.5,551.5 1126.4,550.5 1134.6,546.6 1142.3,543.3 1150.5,547.4 1158.4,553.5 1166.6,552.5 1174.3,551.5 1182.4,554.3 1190.4,561.5 1198.6,575.3 1206.2,574.3 1214.4,579.4 1222.4,572.2 1230.5,574.3 1238.2,571.4 1246.3,575.1 1254.2,574.1 1262.4,573.3" fill="none" stroke="#1e90ff" stroke-width="1" />
<polyline points="6.4,698.3 30.7,697.3 74.2,697.3 89.5,698.3 102.3,700.1 115.1,703.2 127.9,704.7 140.7,706.5 153.5,708.3 166.3,709.8 179.0,710.3 194.4,710.3 217.4,709.0 230.2,707.0 243.0,705.7 255.8,703.9 268.6,702.7 281.4,700.9 294.2,699.3 306.9,698.1 319.7,697.0 332.5,696.3 345.3,695.5 358.1,695.0 370.9,693.7 383.7,693.2 409.3,692.9 410.0,693.2 425.3,693.2 430.5,694.5 471.4,696.3 476.5,697.5 494.4,699.3 517.4,701.4 525.1,702.7 545.6,703.9 568.6,704.4 573.7,705.5 594.2,706.0 599.3,706.5 614.6,707.3 622.3,708.5 630.0,709.8 640.2,710.6 655.6,711.6 663.2,712.4 678.6,712.4 693.9,711.1 706.7,709.6 719.5,708.3 727.2,707.0 742.5,706.5 750.2,705.2 768.1,704.4 775.8,703.2 791.1,701.4 798.8,700.1 814.1,698.8 821.8,697.5 830.2,696.3 837.9,695.0 845.6,693.7 853.3,692.4 862.2,691.1 871.2,691.1 878.8,689.9 886.5,689.1 894.2,688.6 927.4,688.6 932.5,689.4 942.8,689.4 950.5,690.4 958.1,691.7 965.8,692.4 973.5,692.9 983.7,693.2 991.4,694.2 1014.4,694.2 1024.6,693.7 1040.0,692.9 1050.2,691.7 1063.0,691.1 1070.7,690.4 1080.9,689.1 1086.5,688.1 1094.5,686.0 1102.6,683.5 1110.6,682.7 1118.5,678.4 1126.4,676.6 1134.6,672.0 1142.5,667.6 1150.5,662.5 1158.4,657.1 1166.6,652.8 1174.5,648.2 1182.4,645.1 1190.4,641.3 1198.6,639.5 1206.5,638.2 1214.4,640.5 1222.4,641.8 1230.5,644.3 1238.5,648.2 1246.3,652.3 1254.2,656.7 1262.4,660.5" fill="none" stroke="#ff0000" stroke-width="1" stroke-dasharray="3 3"/>
<polygon points="1273,25 1284,25 1278.5,30.5" fill="#c0c0c0"/>
<polygon points="9,31 16,31 12.5,35" fill="#000"/>
<rect x="1599" y="32" width="2" height="1" fill="#000"/>
<rect x="1599" y="65" width="2" height="1" fill="#000"/>
<rect x="1599" y="98" width="2" height="1" fill="#000"/>
<rect x="1599" y="131" width="2" height="1" fill="#000"/>
<rect x="1599" y="164" width="2" height="1" fill="#000"/>
<rect x="1599" y="197" width="2" height="1" fill="#000"/>
<rect x="1599" y="263" width="2" height="1" fill="#000"/>
<rect x="1599" y="296" width="2" height="1" fill="#000"/>
<rect x="1599" y="329" width="2" height="1" fill="#000"/>
<rect x="1599" y="362" width="2" height="1" fill="#000"/>
<rect x="1599" y="395" width="2" height="1" fill="#000"/>
<rect x="1599" y="428" width="2" height="1" fill="#000"/>
<rect x="1599" y="461" width="2" height="1" fill="#000"/>
<rect x="1599" y="494" width="2" height="1" fill="#000"/>
<rect x="1599" y="527" width="2" height="1" fill="#000"/>
<rect x="1600" y="47" width="41" height="11" fill="#ff0000"/>
<rect x="1600" y="115" width="41" height="11" fill="#ff0000"/>
<rect x="1600" y="170" width="41" height="11" fill="#00ff00"/>
<rect x="1600" y="225" width="41" height="11" fill="#0000ff"/>
<rect x="1600" y="279" width="41" height="11" fill="#0000ff"/>
<rect x="1600" y="333" width="41" height="11" fill="#0000ff"/>
<rect x="1600" y="183" width="41" height="11" fill="#000"/>
<rect x="1599" y="560" width="1" height="1" fill="#000"/>
<rect x="1599" y="596" width="1" height="1" fill="#000"/>
<rect x="1599" y="700" width="1" height="1" fill="#000"/>
<rect x="1599" y="718" width="1" height="1" fill="#000"/>
<rect x="1599" y="533" width="1" height="1" fill="#000"/>
<rect x="6" y="719" width="1" height="3" fill="#000"/>
<rect x="70" y="719" width="1" height="3" fill="#000"/>
<rect x="134" y="719" width="1" height="3" fill="#000"/>
<rect x="198" y="719" width="1" height="3" fill="#000"/>
<rect x="262" y="719" width="1" height="3" fill="#000"/>
<rect x="326" y="719" width="1" height="3" fill="#000"/>
<rect x="390" y="719" width="1" height="3" fill="#000"/>
<rect x="454" y="719" width="1" height="3" fill="#000"/>
<rect x="518" y="719" width="1" height="3" fill="#000"/>
<rect x="582" y="719" width="1" height="3" fill="#000"/>
<rect x="646" y="719" width="1" height="3" fill="#000"/>
<rect x="710" y="719" width="1" height="3" fill="#000"/>
<rect x="774" y="719" width="1" height="3" fill="#000"/>
<rect x="838" y="719" width="1" height="3" fill="#000"/>
<rect x="902" y="719" width="1" height="3" fill="#000"/>
<rect x="966" y="719" width="1" height="3" fill="#000"/>
<rect x="1030" y="719" width="1" height="3" fill="#000"/>
<rect x="1094" y="719" width="1" height="3" fill="#000"/>
<rect x="1158" y="719" width="1" height="3" fill="#000"/>
<rect x="1222" y="719" width="1" height="3" fill="#000"/>
<g>
<text x="1604.5" y="35.3" fill="#000" stroke="#000" font-size="9" text-anchor="start" >1.47305</text>
<text x="1604.5" y="68.3" fill="#000" stroke="#000" font-size="9" text-anchor="start" >1.46080</text>
<text x="1604.5" y="101.3" fill="#000" stroke="#000" font-size="9" text-anchor="start" >1.44890</text>
<text x="1604.5" y="134.3" fill="#000" stroke="#000" font-size="9" text-anchor="start" >1.43665</text>
<text x="1604.5" y="167.3" fill="#000" stroke="#000" font-size="9" text-anchor="start" >1.42440</text>
<text x="1604.5" y="200.3" fill="#000" stroke="#000" font-size="9" text-anchor="start" >1.41250</text>
<text x="1604.5" y="266.3" fill="#000" stroke="#000" font-size="9" text-anchor="start" >1.38835</text>
<text x="1604.5" y="299.3" fill="#000" stroke="#000" font-size="9" text-anchor="start" >1.37610</text>
<text x="1604.5" y="332.3" fill="#000" stroke="#000" font-size="9" text-anchor="start" >1.36420</text>
<text x="1604.5" y="365.3" fill="#000" stroke="#000" font-size="9" text-anchor="start" >1.35195</text>
<text x="1604.5" y="398.3" fill="#000" stroke="#000" font-size="9" text-anchor="start" >1.34005</text>
<text x="1604.5" y="431.3" fill="#000" stroke="#000" font-size="9" text-anchor="start" >1.32780</text>
<text x="1604.5" y="464.3" fill="#000" stroke="#000" font-size="9" text-anchor="start" >1.31590</text>
<text x="1604.5" y="497.3" fill="#000" stroke="#000" font-size="9" text-anchor="start" >1.30365</text>
<text x="1604.5" y="530.3" fill="#000" stroke="#000" font-size="9" text-anchor="start" >1.29175</text>
<text x="1604.5" y="55.4" fill="#fff" stroke="none" font-size="9" text-anchor="start" >1.46506</text>
<text x="1604.5" y="123.4" fill="#fff" stroke="none" font-size="9" text-anchor="start" >1.44021</text>
<text x="1604.5" y="178.4" fill="#fff" stroke="none" font-size="9" text-anchor="start" >1.42010</text>
<text x="1604.5" y="233.4" fill="#fff" stroke="none" font-size="9" text-anchor="start" >1.40000</text>
<text x="1604.5" y="287.4" fill="#fff" stroke="none" font-size="9" text-anchor="start" >1.38026</text>
<text x="1604.5" y="341.4" fill="#fff" stroke="none" font-size="9" text-anchor="start" >1.36052</text>
<text x="1604.5" y="191.4" fill="#fff" stroke="none" font-size="9" text-anchor="start" >1.41571</text>
<text x="1602.5" y="542.6" fill="#000" stroke="#000" font-size="9" text-anchor="start" >100</text>
<text x="1602.5" y="563.6" fill="#000" stroke="#000" font-size="9" text-anchor="start" >70</text>
<text x="1602.5" y="599.6" fill="#000" stroke="#000" font-size="9" text-anchor="start" >30</text>
<text x="1602.5" y="620.6" fill="#000" stroke="#000" font-size="9" text-anchor="start" >0</text>
<text x="1602.5" y="636" fill="#000" stroke="#000" font-size="9" text-anchor="start" >0.032493</text>
<text x="1602.5" y="703" fill="#000" stroke="#000" font-size="9" text-anchor="start" >0.00</text>
<text x="1602.5" y="714.5" fill="#000" stroke="#000" font-size="9" text-anchor="start" >-0.008086</text>
<text x="21" y="36" fill="#000" stroke="#000" font-size="9" text-anchor="start" ><tspan textLength="65.4" lengthAdjust="spacingAndGlyphs">USDCAD,Daily</tspan><tspan x="90.7"> 1.41338</tspan><tspan x="127.3"> 1.41654</tspan><tspan x="163"> 1.41220</tspan><tspan x="198.9"> 1.41571</tspan></text>
<text x="10" y="544.6" fill="#000" stroke="#000" font-size="9" text-anchor="start" textLength="67.3" lengthAdjust="spacingAndGlyphs">RSI(14) 55.6644</text>
<text x="10" y="638.6" fill="#000" stroke="#000" font-size="9" text-anchor="start" textLength="147.6" lengthAdjust="spacingAndGlyphs">MACD(12,26,9) 0.011989 0.017312</text>
<text x="4.8" y="730.5" fill="#000" stroke="#000" font-size="9" text-anchor="start" textLength="46.2" lengthAdjust="spacingAndGlyphs">4 Oct 2019</text>
<text x="68.8" y="730.5" fill="#000" stroke="#000" font-size="9" text-anchor="start" textLength="50.6" lengthAdjust="spacingAndGlyphs">14 Oct 2019</text>
<text x="132.8" y="730.5" fill="#000" stroke="#000" font-size="9" text-anchor="start" textLength="50.6" lengthAdjust="spacingAndGlyphs">23 Oct 2019</text>
<text x="196.8" y="730.5" fill="#000" stroke="#000" font-size="9" text-anchor="start" textLength="48.6" lengthAdjust="spacingAndGlyphs">1 Nov 2019</text>
<text x="260.8" y="730.5" fill="#000" stroke="#000" font-size="9" text-anchor="start" textLength="53.3" lengthAdjust="spacingAndGlyphs">11 Nov 2019</text>
<text x="324.8" y="730.5" fill="#000" stroke="#000" font-size="9" text-anchor="start" textLength="53.3" lengthAdjust="spacingAndGlyphs">20 Nov 2019</text>
<text x="388.8" y="730.5" fill="#000" stroke="#000" font-size="9" text-anchor="start" textLength="53.3" lengthAdjust="spacingAndGlyphs">29 Nov 2019</text>
<text x="452.8" y="730.5" fill="#000" stroke="#000" font-size="9" text-anchor="start" textLength="46.2" lengthAdjust="spacingAndGlyphs">9 Dec 2019</text>
<text x="516.8" y="730.5" fill="#000" stroke="#000" font-size="9" text-anchor="start" textLength="51.5" lengthAdjust="spacingAndGlyphs">18 Dec 2019</text>
<text x="580.8" y="730.5" fill="#000" stroke="#000" font-size="9" text-anchor="start" textLength="51.9" lengthAdjust="spacingAndGlyphs">27 Dec 2019</text>
<text x="644.8" y="730.5" fill="#000" stroke="#000" font-size="9" text-anchor="start" textLength="44.9" lengthAdjust="spacingAndGlyphs">6 Jan 2020</text>
<text x="708.8" y="730.5" fill="#000" stroke="#000" font-size="9" text-anchor="start" textLength="49.6" lengthAdjust="spacingAndGlyphs">15 Jan 2020</text>
<text x="772.8" y="730.5" fill="#000" stroke="#000" font-size="9" text-anchor="start" textLength="49.6" lengthAdjust="spacingAndGlyphs">24 Jan 2020</text>
<text x="836.8" y="730.5" fill="#000" stroke="#000" font-size="9" text-anchor="start" textLength="46.6" lengthAdjust="spacingAndGlyphs">3 Feb 2020</text>
<text x="900.8" y="730.5" fill="#000" stroke="#000" font-size="9" text-anchor="start" textLength="50.9" lengthAdjust="spacingAndGlyphs">12 Feb 2020</text>
<text x="964.8" y="730.5" fill="#000" stroke="#000" font-size="9" text-anchor="start" textLength="51.3" lengthAdjust="spacingAndGlyphs">21 Feb 2020</text>
<text x="1028.8" y="730.5" fill="#000" stroke="#000" font-size="9" text-anchor="start" textLength="46.2" lengthAdjust="spacingAndGlyphs">2 Mar 2020</text>
<text x="1092.8" y="730.5" fill="#000" stroke="#000" font-size="9" text-anchor="start" textLength="51.3" lengthAdjust="spacingAndGlyphs">11 Mar 2020</text>
<text x="1156.8" y="730.5" fill="#000" stroke="#000" font-size="9" text-anchor="start" textLength="51.3" lengthAdjust="spacingAndGlyphs">20 Mar 2020</text>
<text x="1220.8" y="730.5" fill="#000" stroke="#000" font-size="9" text-anchor="start" textLength="51.7" lengthAdjust="spacingAndGlyphs">30 Mar 2020</text>
</g>
</svg>
<div id="tabline0"></div><div id="tabline"></div>
<div id="tabbar">
<span class="tab" style="left:-1px">EURUSD,Daily</span><span class="tab" style="left:101px">USDCHF,Daily</span><span class="tab" style="left:203px">AUDUSD,Daily</span><span class="tab act" style="left:307px">USDCAD,Daily</span><span class="tab" style="left:410.5px">USDCNH,Daily</span><span class="tab" style="left:515px">EURUSD,Daily</span><span class="tab" style="left:613px">GBPUSD,H4</span><span class="tab" style="left:704.5px">XAUUSD,H1</span><span class="tab" style="left:787px">HK50,H1</span><span class="tab" style="left:862px">UK100,H1</span><span class="tab" style="left:942.6px">UK100,H1</span><span class="tab" style="left:1022px">GER30,H1</span><span class="tab" style="left:1100.4px">FRA40,H1</span><span class="tab" style="left:1174.5px">USOil,H1</span><span class="tab" style="left:1252.4px">USDJPY,H1</span>
<i class="sep" style="left:111px"></i><i class="sep" style="left:211px"></i><i class="sep" style="left:523px"></i><i class="sep" style="left:627px"></i><i class="sep" style="left:720px"></i><i class="sep" style="left:811px"></i><i class="sep" style="left:884px"></i><i class="sep" style="left:963px"></i><i class="sep" style="left:1043px"></i><i class="sep" style="left:1123px"></i><i class="sep" style="left:1199px"></i><i class="sep" style="left:1271px"></i><i class="sep" style="left:1355px"></i>
<i class="arr" style="left:1614px;border-right:4px solid #a0a0a0"></i>
<i class="arr" style="left:1633px;border-left:4px solid #a0a0a0"></i>
</div>
<div id="below"></div>
</body></html>
